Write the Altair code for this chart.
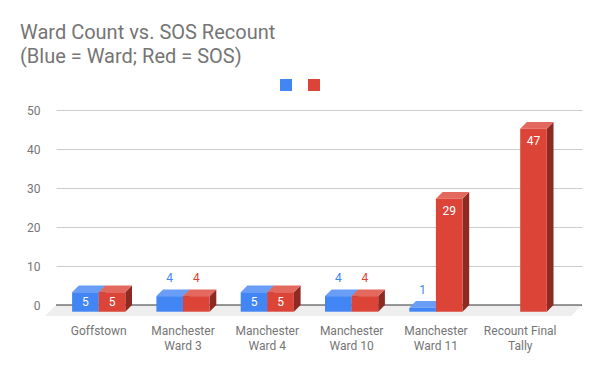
import altair as alt
import pandas as pd

# ---------------- data ----------------
categories = [
    "Goffstown",
    "Manchester\nWard 3",
    "Manchester\nWard 4",
    "Manchester\nWard 10",
    "Manchester\nWard 11",
    "Recount Final\nTally",
]
series_names = ["Ward", "SOS"]
ward_counts = [5, 4, 5, 4, 1, None]
sos_counts = [5, 4, 5, 4, 29, 47]

# ---------------- style ----------------
BLUE, RED = "#4285F4", "#DB4437"
BLUE_TOP, RED_TOP = "#6A9EF6", "#E3685E"
BLUE_SIDE, RED_SIDE = "#2F64C0", "#8E2A22"
FLOOR, GRID, BASE, TEXT = "#EEEEEE", "#CCCCCC", "#333333", "#757575"
FONT = "Roboto"

W, H = 526, 218
PX_CAT = 84.3          # pixels per category
PX_UNIT = 3.894        # pixels per value unit
FIRST_CENTER_PX = 42.7
ZERO_PX = 207
X0 = -FIRST_CENTER_PX / PX_CAT
X1 = X0 + W / PX_CAT
Y0 = (ZERO_PX - H) / PX_UNIT
Y1 = ZERO_PX / PX_UNIT
BW = 26.6 / PX_CAT
DX = 6.7 / PX_CAT
DY = 6.7 / PX_UNIT
FDX = 11 / PX_CAT
FDY = 11 / PX_UNIT

rows = []
for i, cat in enumerate(categories):
    for s, vals in enumerate([ward_counts, sos_counts]):
        v = vals[i]
        if v is None:
            continue
        rows.append({"i": i, "s": s, "series": series_names[s], "value": v, "bar": f"{i}-{s}"})
bars = pd.DataFrame(rows)
cat_df = pd.DataFrame({"i": list(range(len(categories))), "label": categories})
unit_df = pd.DataFrame({"k": [0, 1]})

xs = alt.Scale(domain=[X0, X1], nice=False, zero=False)
ys = alt.Scale(domain=[Y0, Y1], nice=False, zero=False)
yaxis = alt.Axis(values=[0, 10, 20, 30, 40, 50], grid=True, gridColor=GRID, domain=False,
                 ticks=False, labelPadding=16, title=None, labelColor=TEXT,
                 labelFont=FONT, labelFontSize=12)

def Xq(f):
    return alt.X(f, scale=xs, axis=None)

def Yq(f):
    return alt.Y(f, scale=ys, axis=yaxis, stack=None)

floor = alt.Chart(unit_df).transform_calculate(
    fy=f"-datum.k * {FDY}",
    fx0=f"{X0} - datum.k * {FDX}",
    fx1=f"{X1} - datum.k * {FDX}",
).mark_area(orient="horizontal", color=FLOOR, opacity=1).encode(
    y=Yq("fy:Q"), x=Xq("fx0:Q"), x2="fx1:Q"
)

baseline = alt.Chart(pd.DataFrame({"k": [0]})).mark_rule(color=BASE, strokeWidth=1).encode(
    y=alt.Y(datum=0, scale=ys, axis=yaxis)
)

base = alt.Chart(bars).transform_calculate(
    x0=f"datum.i + (datum.s - 1) * {BW}",
).transform_calculate(
    x1=f"datum.x0 + {BW}",
    yb=f"{-DY}",
    yt=f"datum.value - {DY}",
)

expanded = base.transform_calculate(k="[0, 1]").transform_flatten(["k"])

sides = expanded.transform_calculate(
    sx=f"datum.x1 + datum.k * {DX}",
    sy=f"datum.yb + datum.k * {DY}",
    sy2=f"datum.yt + datum.k * {DY}",
).mark_area(orient="vertical", opacity=1).encode(
    x=Xq("sx:Q"), y=Yq("sy:Q"), y2="sy2:Q", detail="bar:N",
    color=alt.condition("datum.s == 0", alt.value(BLUE_SIDE), alt.value(RED_SIDE)),
)

tops = expanded.transform_calculate(
    ty=f"datum.yt + datum.k * {DY}",
    tx0=f"datum.x0 + datum.k * {DX}",
    tx1=f"datum.x1 + datum.k * {DX}",
).mark_area(orient="horizontal", opacity=1).encode(
    y=Yq("ty:Q"), x=Xq("tx0:Q"), x2="tx1:Q", detail="bar:N",
    color=alt.condition("datum.s == 0", alt.value(BLUE_TOP), alt.value(RED_TOP)),
)

fronts = base.mark_rect().encode(
    x=Xq("x0:Q"), x2="x1:Q", y=Yq("yb:Q"), y2="yt:Q",
    color=alt.Color("series:N", scale=alt.Scale(domain=series_names, range=[BLUE, RED]),
                    legend=alt.Legend(orient="none", legendX=224, legendY=-19,
                                      direction="horizontal", title=None, labelExpr="''",
                                      symbolType="square", symbolSize=144,
                                      symbolStrokeWidth=0, labelOffset=0,
                                      columnPadding=16, padding=0)),
)

labels = base.transform_calculate(
    lx="(datum.x0 + datum.x1) / 2",
    inside="datum.value >= 4.5",
    ly=f"datum.value >= 4.5 ? max(datum.yt - {12 / PX_UNIT}, (datum.yb + datum.yt) / 2) : datum.value + {11 / PX_UNIT}",
)

in_labels = labels.transform_filter("datum.inside").mark_text(
    color="white", font=FONT, fontSize=12, baseline="middle", align="center"
).encode(x=Xq("lx:Q"), y=Yq("ly:Q"), text=alt.Text("value:Q", format="d"))

out_labels = labels.transform_filter("!datum.inside").mark_text(
    font=FONT, fontSize=12, baseline="middle", align="center"
).encode(x=Xq("lx:Q"), y=Yq("ly:Q"), text=alt.Text("value:Q", format="d"),
         color=alt.condition("datum.s == 0", alt.value(BLUE), alt.value(RED)))

cat_labels = alt.Chart(cat_df).mark_text(
    lineBreak="\n", baseline="alphabetic", align="center", font=FONT, fontSize=12,
    color=TEXT, lineHeight=15
).encode(x=Xq("i:Q"), y=alt.value(237), text="label:N")

chart = alt.layer(floor, baseline, sides, tops, fronts, in_labels, out_labels, cat_labels).properties(
    width=W, height=H,
    title=alt.TitleParams(["Ward Count vs. SOS Recount", "(Blue = Ward; Red = SOS)"],
                          anchor="start", frame="group", dx=-36, offset=12, fontSize=20,
                          font=FONT, fontWeight="normal", color=TEXT, lineHeight=24),
    autosize=alt.AutoSizeParams(type="none"),
    padding={"left": 48, "top": 90, "right": 10, "bottom": 47},
).configure(
    background="white",
    view=alt.ViewConfig(stroke="transparent", strokeOpacity=0, strokeWidth=0.001),
)

chart.save("out.html", embed_options={"renderer": "svg", "actions": False})
